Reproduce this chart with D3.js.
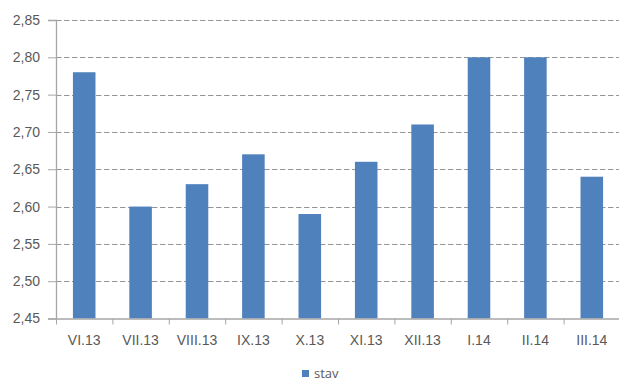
<!DOCTYPE html>
<html>
<head>
<meta charset="utf-8">
<script src="https://cdn.jsdelivr.net/npm/d3@7"></script>
<style>
  html, body { margin: 0; padding: 0; background: #fff; }
  svg { display: block; font-family: "Open Sans", "Liberation Sans", sans-serif; }
</style>
</head>
<body>
<svg id="chart" width="619" height="381"></svg>
<script>
// Monthly values of "stav"
const categories = ["VI.13", "VII.13", "VIII.13", "IX.13", "X.13", "XI.13", "XII.13", "I.14", "II.14", "III.14"];
const stav = [2.78, 2.60, 2.63, 2.67, 2.59, 2.66, 2.71, 2.80, 2.80, 2.64];
const yTicks = [2.45, 2.50, 2.55, 2.60, 2.65, 2.70, 2.75, 2.80, 2.85];
const seriesName = "stav";

const svg = d3.select("#chart");
const plotLeft = 56, plotRight = 620, plotTop = 20, plotBottom = 318.5;

const x = d3.scaleBand().domain(categories).range([plotLeft, plotRight]).paddingInner(0.6).paddingOuter(0.3);
const xb = d3.scaleBand().domain(categories).range([plotLeft, plotRight]);
const y = d3.scaleLinear().domain([2.45, 2.85]).range([plotBottom, plotTop]);

const fmt = v => d3.format(".2f")(v).replace(".", ",");

// dashed horizontal gridlines
svg.append("g").selectAll("line").data(yTicks.slice(1)).join("line")
  .attr("x1", plotLeft).attr("x2", plotRight)
  .attr("y1", d => Math.round(y(d)) + 0.5).attr("y2", d => Math.round(y(d)) + 0.5)
  .attr("stroke", "#969696").attr("stroke-width", 1)
  .attr("stroke-dasharray", "5.5,2.5");

// bars
svg.append("g").selectAll("rect").data(stav).join("rect")
  .attr("x", (d, i) => x(categories[i]))
  .attr("width", x.bandwidth())
  .attr("y", d => y(d))
  .attr("height", d => y(2.45) - y(d))
  .attr("fill", "#4f81bd");

// y axis
const yAxis = svg.append("g").attr("transform", `translate(${plotLeft},0)`)
  .call(d3.axisLeft(y).tickValues(yTicks).tickFormat(fmt).tickSize(8).tickPadding(8));
yAxis.select(".domain").attr("stroke", "#a6a6a6").attr("stroke-width", 1.3);
yAxis.selectAll(".tick line").attr("stroke", "#a6a6a6");
yAxis.selectAll("text").attr("fill", "#595959").attr("font-size", "14px");

// x axis
const xAxis = svg.append("g").attr("transform", `translate(0,${plotBottom})`)
  .call(d3.axisBottom(xb).tickSize(0).tickSizeOuter(0).tickPadding(17));
xAxis.select(".domain").attr("stroke", "#a6a6a6").attr("stroke-width", 1.3);
xAxis.selectAll("text").attr("fill", "#595959").attr("font-size", "14px");
// tick marks at band boundaries
svg.append("g").selectAll("line").data(categories).join("line")
  .attr("x1", d => xb(d) + 0.5).attr("x2", d => xb(d) + 0.5)
  .attr("y1", plotBottom).attr("y2", plotBottom + 6)
  .attr("stroke", "#a6a6a6");

// legend
const lg = svg.append("g").attr("transform", "translate(302,370)");
lg.append("rect").attr("width", 7).attr("height", 7).attr("fill", "#4f81bd");
lg.append("text").attr("x", 12).attr("y", 8).text(seriesName)
  .attr("fill", "#595959").attr("font-size", "13px");
</script>
</body>
</html>
